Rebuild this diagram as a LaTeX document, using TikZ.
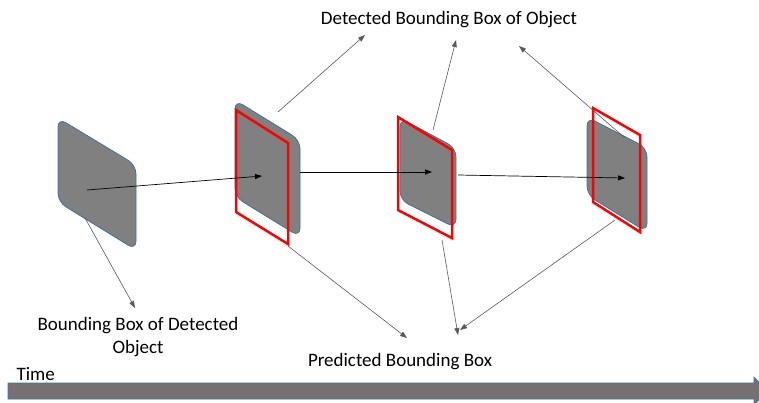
\documentclass[tikz,border=0pt]{standalone}
\usepackage{fontspec}
\setmainfont{Carlito}
\usetikzlibrary{arrows.meta}

\definecolor{boxgray}{RGB}{128,128,128}
\definecolor{boxedge}{RGB}{65,113,156}
\definecolor{timegray}{RGB}{118,113,113}

\begin{document}
\begin{tikzpicture}[
        x = 1pt, y = -1pt,
        every node/.style = {font = \fontsize{19}{23}\selectfont},
        detbox/.style = {
                fill = boxgray,
                draw = boxedge,
                line width = 0.8pt,
                rounded corners = 9pt
            },
        predbox/.style = {draw = red, line width = 2.5pt},
        track/.style = {-{Triangle[length = 7pt, width = 5pt]}, line width = 0.7pt},
        pointer/.style = {-{Triangle[length = 7pt, width = 5pt]}, line width = 0.6pt, black!65}
    ]

    \useasboundingbox (0,0) rectangle (759,402);

    % boxes along the track
    \draw[detbox] (58,118) -- (136,165) -- (136,250) -- (58,202) -- cycle;

    \draw[detbox] (235,100) -- (300,140) -- (300,237) -- (235,197) -- cycle;
    \draw[predbox] (236,110) -- (288,143) -- (288,244) -- (236,212) -- cycle;

    \draw[detbox] (400,118) -- (456,148) -- (456,228) -- (400,200) -- cycle;
    \draw[predbox] (398,117) -- (452,150) -- (452,238) -- (398,210) -- cycle;

    \draw[detbox] (587,117) -- (647,148) -- (647,232) -- (587,195) -- cycle;
    \draw[predbox] (593,108) -- (640,135) -- (640,232) -- (593,202) -- cycle;

    % time axis
    \draw[fill = timegray, draw = boxedge, line width = 0.6pt]
        (8,383) -- (754,383) -- (754,377) -- (768,391) -- (754,405)
        -- (754,399) -- (8,399) -- cycle;

    % labels
    \node (detected) at (449,20) {Detected Bounding Box of Object};
    \node[align = center] (first) at (138,337) {Bounding Box of Detected\\Object};
    \node (predicted) at (400,362) {Predicted Bounding Box};
    \node[anchor = west] (time) at (13,374) {Time};

    % anchor points
    \coordinate (c1) at (87,190);
    \coordinate (c2) at (262,176);
    \coordinate (c3) at (432,172);
    \coordinate (c4) at (625,178);
    \coordinate (r2) at (300,172);
    \coordinate (r3) at (458,175);

    \coordinate (t2) at (278,112);
    \coordinate (t3) at (433,130);
    \coordinate (t4) at (625,138);
    \coordinate (u2) at (365,35);
    \coordinate (u3) at (456,40);
    \coordinate (u4) at (519,46);

    \coordinate (b1) at (85,218);
    \coordinate (b2) at (288,246);
    \coordinate (b3) at (442,240);
    \coordinate (b4) at (615,220);
    \coordinate (d1) at (135,308);
    \coordinate (d2) at (407,338);
    \coordinate (d3) at (458,335);
    \coordinate (d4) at (460,330);

    % track between frames
    \draw[track] (c1) -- (c2);
    \draw[track] (r2) -- (c3);
    \draw[track] (r3) -- (c4);

    % callouts
    \draw[pointer] (t2) -- (u2);
    \draw[pointer] (t3) -- (u3);
    \draw[pointer] (t4) -- (u4);

    \draw[pointer] (b1) -- (d1);
    \draw[pointer] (b2) -- (d2);
    \draw[pointer] (b3) -- (d3);
    \draw[pointer] (b4) -- (d4);

\end{tikzpicture}
\end{document}
